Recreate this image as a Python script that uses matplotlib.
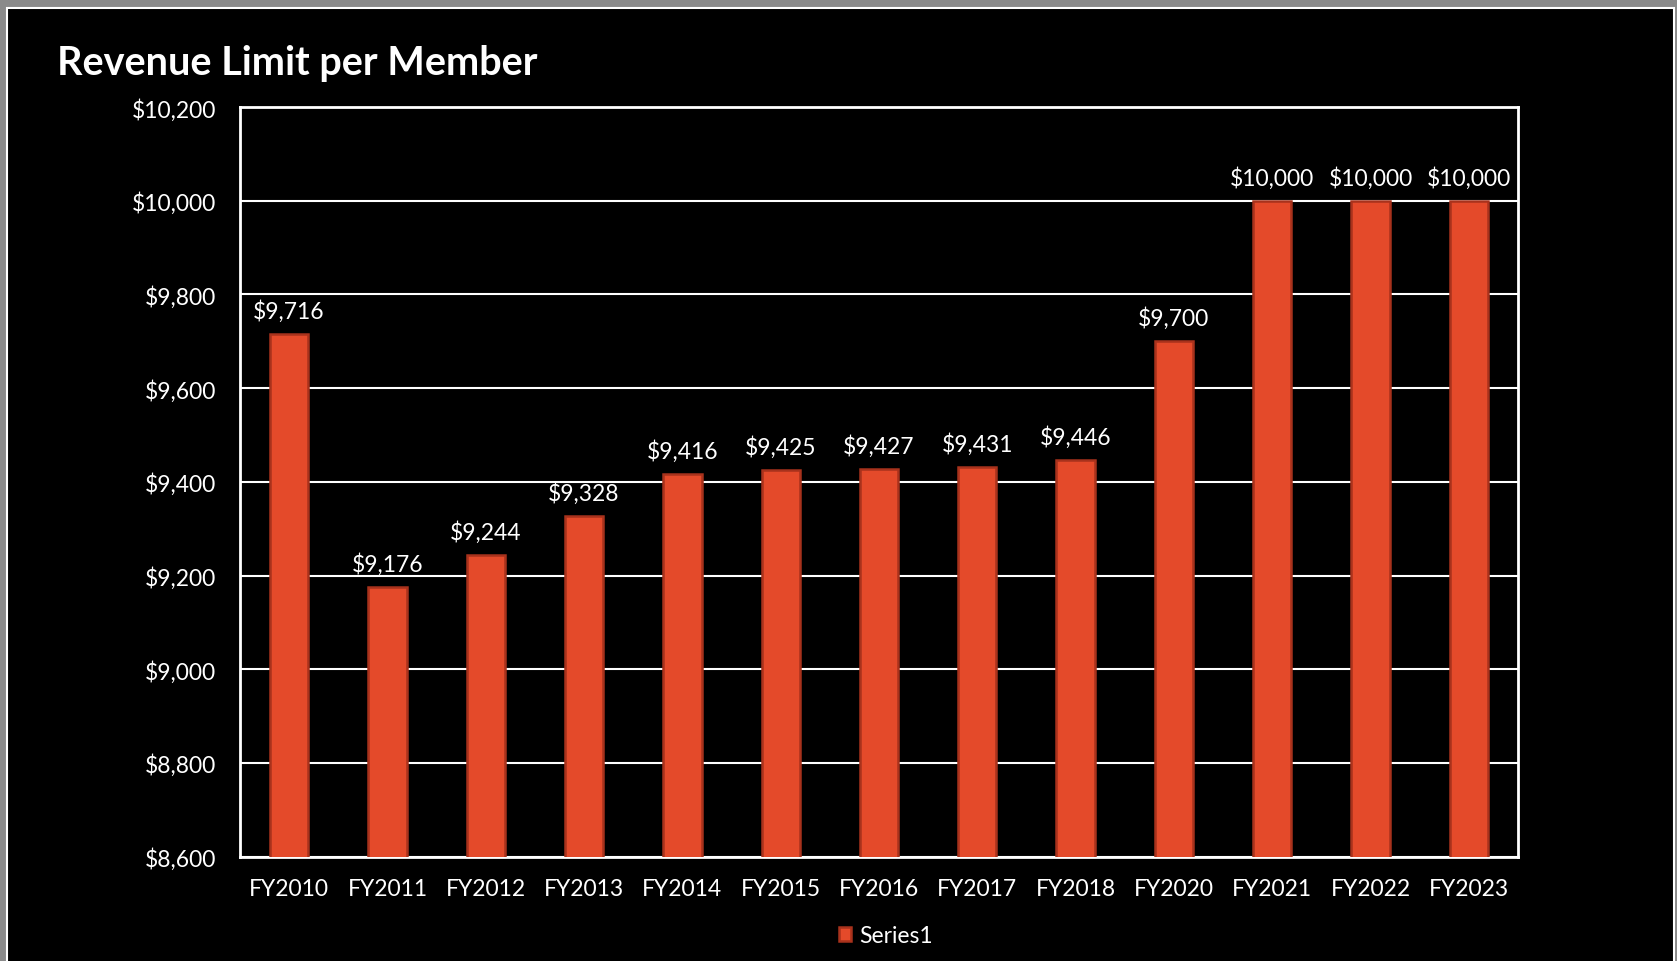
import matplotlib.pyplot as plt
from matplotlib.patches import Rectangle
from matplotlib.ticker import FuncFormatter, MultipleLocator

# data
years = ['FY2010', 'FY2011', 'FY2012', 'FY2013', 'FY2014', 'FY2015', 'FY2016',
         'FY2017', 'FY2018', 'FY2020', 'FY2021', 'FY2022', 'FY2023']
revenue = [9716, 9176, 9244, 9328, 9416, 9425, 9427, 9431, 9446, 9700, 10000, 10000, 10000]

bar_color = '#e44a2a'
edge_color = '#a8321c'

plt.rcParams['font.family'] = ['Lato', 'DejaVu Sans']

fig = plt.figure(figsize=(16.77, 9.62), dpi=100, facecolor='#8a8a8a')

# black card with thin white outline (behind the axes)
fig.patches.append(Rectangle((7 / 1677, -0.01), 1667 / 1677, 1.01 - 9 / 962,
                             transform=fig.transFigure, facecolor='black',
                             edgecolor='white', linewidth=1.5, zorder=-5))

ax = fig.add_axes([0.1431, 0.1084, 0.7621, 0.7793])
ax.set_facecolor('black')

x = range(len(years))
bars = ax.bar(x, revenue, width=0.39, color=bar_color, edgecolor=edge_color,
              linewidth=1.8, zorder=3, label='Series1')

for xi, v in zip(x, revenue):
    ax.text(xi, v + 26, '${:,}'.format(v), ha='center', va='bottom',
            color='white', fontsize=16.5)

ax.set_xlim(-0.5, len(years) - 0.5)
ax.set_ylim(8600, 10200)
ax.yaxis.set_major_locator(MultipleLocator(200))
ax.yaxis.set_major_formatter(FuncFormatter(lambda v, p: '${:,.0f}'.format(v)))
ax.set_xticks(list(x))
ax.set_xticklabels(years)

ax.grid(axis='y', color='white', linewidth=1.5, zorder=1)
for s in ax.spines.values():
    s.set_color('white')
    s.set_linewidth(2)

ax.tick_params(axis='both', length=0, colors='white', labelsize=16.5)
ax.tick_params(axis='y', pad=17)
ax.tick_params(axis='x', pad=15)

fig.text(57 / 1677, 1 - 63 / 962, 'Revenue Limit per Member', color='white',
         fontsize=28.5, fontweight='bold', va='center', ha='left')

leg = fig.legend(handles=[bars], labels=['Series1'], loc='center',
                 bbox_to_anchor=(886 / 1677, 1 - 937 / 962), frameon=False,
                 fontsize=16.5, handlelength=0.55, handleheight=0.55, handletextpad=0.35)
for t in leg.get_texts():
    t.set_color('white')

fig.savefig('out.png', dpi=100, facecolor=fig.get_facecolor())
